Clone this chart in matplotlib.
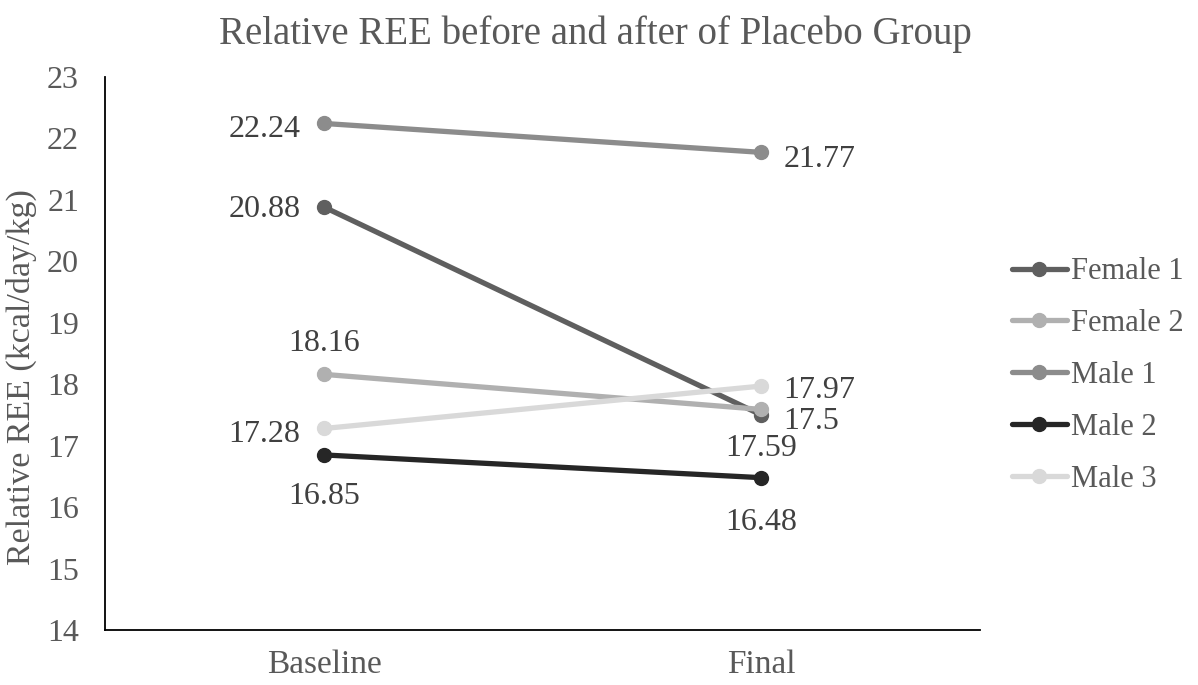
import numpy as np
import matplotlib.pyplot as plt

plt.rcParams['font.family'] = ['Liberation Serif', 'DejaVu Serif']

# relative REE (kcal/day/kg) at the two visits
visits = ['Baseline', 'Final']
subjects = ['Female 1', 'Female 2', 'Male 1', 'Male 2', 'Male 3']
baseline = [20.88, 18.16, 22.24, 16.85, 17.28]
final = [17.5, 17.59, 21.77, 16.48, 17.97]
colors = ['#5f5f5f', '#b0b0b0', '#8c8c8c', '#262626', '#d9d9d9']

# where each value label goes: (dx, dy) in points, horizontal alignment
base_pos = [(-17, -2, 'right'), (0, 22, 'center'), (-17, -4, 'right'),
            (0, -30, 'center'), (-17, -4, 'right')]
final_pos = [(16, -5, 'left'), (0, -28, 'center'), (16, -5, 'left'),
             (0, -32, 'center'), (16, -3, 'left')]

fig = plt.figure(figsize=(11.98, 6.85), dpi=100)
ax = fig.add_axes([0.088, 0.08, 0.73, 0.808])

x = np.arange(len(visits))
for i, name in enumerate(subjects):
    vals = [baseline[i], final[i]]
    ax.plot(x, vals, color=colors[i], lw=3.8, marker='o', ms=10,
            solid_capstyle='round', label=name)
    for xi, v, pos in zip(x, vals, [base_pos[i], final_pos[i]]):
        dx, dy, ha = pos
        ax.annotate(f'{v:g}', (xi, v), xytext=(dx, dy), textcoords='offset points',
                    ha=ha, va='center', fontsize=23, color='#404040')

ax.set_xlim(-0.5, 1.5)
ax.set_ylim(14, 23)
ax.set_yticks(range(14, 24))
ax.set_xticks(x)
ax.set_xticklabels(visits)
ax.tick_params(axis='both', length=0, colors='#595959')
ax.tick_params(axis='x', pad=14, labelsize=24)
ax.tick_params(axis='y', pad=19, labelsize=23)
for s in ['top', 'right']:
    ax.spines[s].set_visible(False)
for s in ['left', 'bottom']:
    ax.spines[s].set_color('black')
    ax.spines[s].set_linewidth(1.3)

ax.set_ylabel('Relative REE (kcal/day/kg)', fontsize=24.5, color='#595959')
ax.yaxis.set_label_coords(-0.078, 0.4575)
fig.suptitle('Relative REE before and after of Placebo Group', fontsize=28,
             color='#595959', x=0.497, y=0.977)

leg = ax.legend(loc='center left', bbox_to_anchor=(1.005, 0.46), frameon=False,
                fontsize=22, handlelength=1.8, handletextpad=0.12, labelspacing=0.75,
                labelcolor='#595959')

fig.savefig('out.png', dpi=100)
